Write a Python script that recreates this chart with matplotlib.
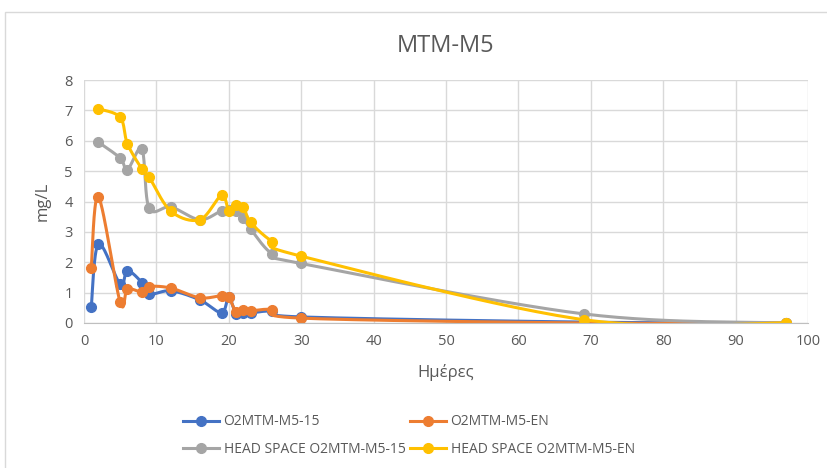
import numpy as np
import matplotlib
matplotlib.use("Agg")
import matplotlib.pyplot as plt
from matplotlib.lines import Line2D
from matplotlib.patches import Rectangle

plt.rcParams['font.family'] = ['Open Sans', 'DejaVu Sans']

# days
days = [1, 2, 5, 6, 8, 9, 12, 16, 19, 20, 21, 22, 23, 26, 30, 69, 97]
days_hs = [2, 5, 6, 8, 9, 12, 16, 19, 20, 21, 22, 23, 26, 30, 69, 97]

# mg/L
o2_15 = [0.52, 2.6, 1.28, 1.72, 1.33, 0.95, 1.06, 0.76, 0.34, 0.85, 0.28, 0.33, 0.33, 0.39, 0.2, 0.03, 0.0]
o2_en = [1.82, 4.15, 0.68, 1.12, 1.02, 1.2, 1.15, 0.83, 0.9, 0.85, 0.36, 0.42, 0.4, 0.44, 0.16, 0.0, 0.0]
hs_15 = [5.95, 5.43, 5.05, 5.72, 3.78, 3.82, 3.4, 3.7, 3.72, 3.7, 3.47, 3.1, 2.27, 1.96, 0.3, 0.0]
hs_en = [7.05, 6.77, 5.9, 5.07, 4.8, 3.68, 3.4, 4.2, 3.7, 3.9, 3.82, 3.32, 2.68, 2.2, 0.11, 0.0]

names = ["O2MTM-M5-15", "O2MTM-M5-EN", "HEAD SPACE O2MTM-M5-15", "HEAD SPACE O2MTM-M5-EN"]
colors = ["#4472C4", "#ED7D31", "#A5A5A5", "#FFC000"]


def smooth(x, y, n=30):
    # excel-like smoothed line (bezier through the points)
    p = np.column_stack([x, y]).astype(float)
    ext = np.vstack([p[0], p, p[-1]])
    out = []
    t = np.linspace(0, 1, n)[:, None]
    for i in range(len(p) - 1):
        p0, p1, p2, p3 = ext[i], ext[i + 1], ext[i + 2], ext[i + 3]
        c1 = p1 + (p2 - p0) / 6
        c2 = p2 - (p3 - p1) / 6
        seg = ((1 - t) ** 3) * p1 + 3 * ((1 - t) ** 2) * t * c1 + 3 * (1 - t) * t ** 2 * c2 + t ** 3 * p2
        out.append(seg)
    out = np.vstack(out)
    return out[:, 0], out[:, 1]


fig = plt.figure(figsize=(8.28, 4.68), dpi=100)
fig.patches.append(Rectangle((5 / 828, -0.1), 1.0, 1.1 - 12 / 468, transform=fig.transFigure,
                             fill=False, edgecolor="#d9d9d9", lw=1))
ax = fig.add_axes([84 / 828, 1 - 323 / 468, 724 / 828, 243 / 468])

series = [(days, o2_15), (days, o2_en), (days_hs, hs_15), (days_hs, hs_en)]
handles = []
for (x, y), name, c in zip(series, names, colors):
    sx, sy = smooth(x, y)
    ax.plot(sx, sy, color=c, lw=2.2, solid_capstyle="round")
    ax.plot(x, y, "o", color=c, ms=7)
    handles.append(Line2D([0], [0], color=c, lw=2.2, marker="o", ms=7, label=name))

ax.set_xlim(0, 100)
ax.set_ylim(0, 8)
ax.set_xticks(range(0, 101, 10))
ax.set_yticks(range(0, 9))
ax.grid(True, color="#d9d9d9", lw=1)
ax.set_axisbelow(True)
for s in ["top", "right", "left"]:
    ax.spines[s].set_visible(False)
ax.spines["bottom"].set_color("#bfbfbf")
ax.tick_params(length=0, labelsize=10.5, colors="#595959", pad=8)
ax.set_xlabel("Ημέρες", fontsize=12, color="#595959", labelpad=11)
ax.set_ylabel("mg/L", fontsize=12, color="#595959", labelpad=10)
ax.set_title("MTM-M5", fontsize=17, color="#595959", pad=20)

# legend filled by column, so reorder to get blue/orange on the first row
order = [0, 2, 1, 3]
fig.legend(handles=[handles[i] for i in order], ncol=2, loc="center", bbox_to_anchor=(0.494, 0.069),
           frameon=False, fontsize=10, labelcolor="#595959", handlelength=2.6,
           handletextpad=0.3, columnspacing=0.35, labelspacing=0.9)

fig.savefig("out.png", dpi=100)
